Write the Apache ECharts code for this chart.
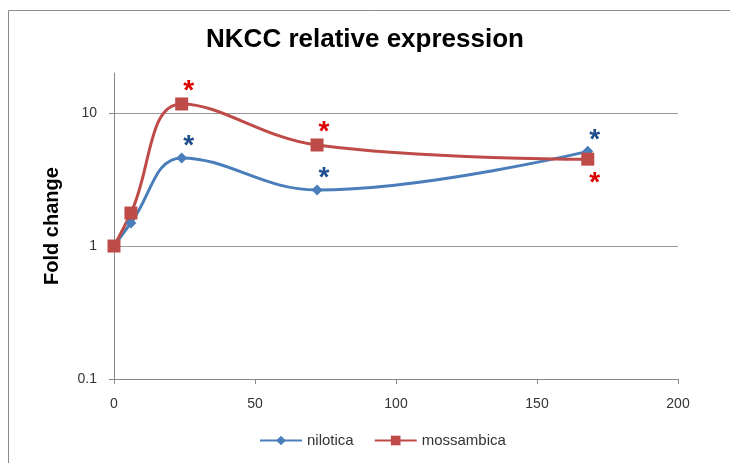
<!DOCTYPE html>
<html><head><meta charset="utf-8">
<script src="https://cdn.jsdelivr.net/npm/echarts@6/dist/echarts.min.js"></script>
<style>html,body{margin:0;padding:0;background:#fff}#c{width:730px;height:463px}</style>
</head><body><div id="c"></div>
<script>
const hours = [0, 6, 24, 72, 168];
const nilotica = [1, 1.49, 4.6, 2.64, 5.15];
const mossambica = [1, 1.77, 11.7, 5.75, 4.5];
const niloticaSig = [false, false, true, true, true];
const mossambicaSig = [false, false, true, true, true];
const mossambicaSigBelow = [false, false, false, false, true];
const yTicks = [0.1, 1, 10];

const FONT = '"Liberation Sans", Arial, sans-serif';
function build(vals, sig, below, color) {
  return hours.map((h, i) => {
    const d = { value: [h, vals[i]] };
    if (sig[i]) {
      d.label = {
        show: true, formatter: '*', color: color, fontSize: 28, fontWeight: 'bold',
        fontFamily: FONT,
        position: below[i] ? 'bottom' : 'top',
        offset: below[i] ? [7, -1] : [7, 13]
      };
    }
    return d;
  });
}
const chart = echarts.init(document.getElementById('c'));
chart.setOption({
  animation: false,
  backgroundColor: '#fff',
  graphic: [{ type: 'rect', shape: { x: 8.5, y: 10.5, width: 760, height: 480 }, style: { fill: 'none', stroke: '#8c8c8c', lineWidth: 1 } }],
  title: { text: 'NKCC relative expression', left: 'center', top: 22,
    textStyle: { fontFamily: FONT, fontWeight: 'bold', fontSize: 26, color: '#000' } },
  grid: { left: 114, right: 52, top: 73, bottom: 84 },
  legend: { bottom: 10, left: 254, itemWidth: 42, itemHeight: 12, itemGap: 20,
    textStyle: { fontFamily: FONT, fontSize: 15, color: '#333' } },
  xAxis: { type: 'value', min: 0, max: 200, interval: 50,
    axisLine: { lineStyle: { color: '#888' } },
    axisTick: { show: true, length: 5, lineStyle: { color: '#888' } },
    axisLabel: { fontFamily: FONT, fontSize: 14, color: '#333', margin: 18 },
    splitLine: { show: false } },
  yAxis: { type: 'log', logBase: 10, min: 0.1, max: 20,
    name: 'Fold change', nameLocation: 'middle', nameGap: 52,
    nameTextStyle: { fontFamily: FONT, fontWeight: 'bold', fontSize: 20, color: '#000' },
    axisLine: { show: true, lineStyle: { color: '#888' } },
    axisTick: { show: true, length: 5, customValues: yTicks, lineStyle: { color: '#888' } },
    axisLabel: { fontFamily: FONT, fontSize: 14, color: '#333', margin: 17, customValues: yTicks,
      formatter: v => String(+v.toPrecision(3)) },
    splitLine: { show: true, lineStyle: { color: '#999' } } },
  series: [
    { name: 'nilotica', type: 'line', smooth: 0.4, data: build(nilotica, niloticaSig, [false,false,false,false,false], '#1F4E8C'),
      symbol: 'diamond', symbolSize: 11, lineStyle: { width: 3, color: '#4A7EBB' },
      itemStyle: { color: '#4A7EBB' } },
    { name: 'mossambica', type: 'line', smooth: 0.4, data: build(mossambica, mossambicaSig, mossambicaSigBelow, '#DD0000'),
      symbol: 'rect', symbolSize: 13, lineStyle: { width: 3, color: '#BE4B48' },
      itemStyle: { color: '#BE4B48' } }
  ]
});
</script></body></html>
